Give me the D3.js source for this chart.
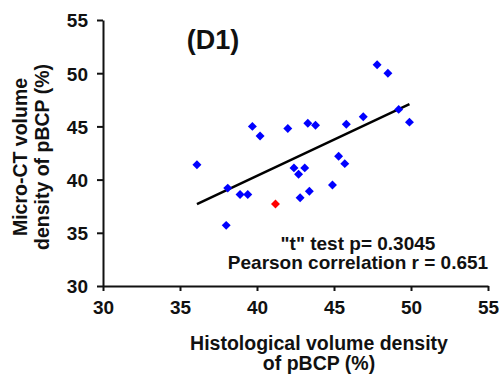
<!DOCTYPE html>
<html>
<head>
<meta charset="utf-8">
<script src="https://cdn.jsdelivr.net/npm/d3@7"></script>
<style>
  body { margin: 0; background: #fff; }
  text { font-family: "Liberation Sans", Arial, sans-serif; font-weight: bold; fill: #111; }
</style>
</head>
<body>
<div id="figure-div"></div>
<script>
// data
var histo = [39.7, 40.2, 42.0, 43.3, 43.8, 45.8, 36.1, 45.3, 45.7, 42.4, 43.1, 42.7,
             38.1, 38.9, 39.4, 42.8, 43.4, 44.9, 47.8, 48.5, 46.9, 49.2, 49.9, 38.0];
var microct = [45.0, 44.1, 44.8, 45.3, 45.1, 45.2, 41.4, 42.2, 41.5, 41.1, 41.1, 40.5,
               39.2, 38.6, 38.6, 38.3, 38.9, 39.5, 50.8, 50.0, 45.9, 46.6, 45.4, 35.7];
// the one red point
var outlierX = [41.2];
var outlierY = [37.7];
// trend line end points
var trendX = [36.1, 49.9];
var trendY = [37.7, 47.1];
var tickValues = [30, 35, 40, 45, 50, 55];
var title = "(D1)";
var statLines = ['"t" test p= 0.3045', "Pearson correlation r = 0.651"];
var xLabel = ["Histological volume density", "of pBCP (%)"];
var yLabel = ["Micro-CT volume", "density of pBCP (%)"];

var w = 501, h = 380;
var plotLeft = 103, plotRight = 488, plotTop = 20, plotBottom = 286;

var svg = d3.select("#figure-div").append("svg")
	.attr("width", w)
	.attr("height", h);

var xScale = d3.scaleLinear().domain([30, 55]).range([plotLeft, plotRight]);
var yScale = d3.scaleLinear().domain([30, 55]).range([plotBottom, plotTop]);

// axes
var xAxis = svg.append("g")
	.attr("transform", "translate(0," + plotBottom + ")")
	.call(d3.axisBottom(xScale).tickValues(tickValues).tickSize(5).tickSizeOuter(0).tickPadding(10));
var yAxis = svg.append("g")
	.attr("transform", "translate(" + plotLeft + ",0)")
	.call(d3.axisLeft(yScale).tickValues(tickValues).tickSize(6).tickSizeOuter(0).tickPadding(9));

svg.selectAll(".domain").attr("stroke", "#111").attr("stroke-width", 2);
svg.selectAll(".tick line").attr("stroke", "#111").attr("stroke-width", 2);
svg.selectAll(".tick text")
	.style("font-family", "'Liberation Sans', Arial, sans-serif")
	.style("font-weight", "bold")
	.style("font-size", "19px")
	.attr("fill", "#111");
xAxis.selectAll(".tick text").attr("dy", "0.71em");
yAxis.selectAll(".tick text").attr("dy", "0.36em");

// trend line
var line = d3.line()
	.x(function(d) { return xScale(d[0]); })
	.y(function(d) { return yScale(d[1]); });
svg.append("path")
	.datum(trendX.map(function(x, i) { return [x, trendY[i]]; }))
	.attr("d", line)
	.attr("fill", "none")
	.attr("stroke", "#000")
	.attr("stroke-width", 2.5);

// diamonds
var diamond = d3.symbol().type(d3.symbolSquare).size(40);
svg.selectAll("path.blue")
	.data(histo)
	.enter()
	.append("path")
	.attr("class", "blue")
	.attr("d", diamond)
	.attr("transform", function(d, i) {
		return "translate(" + xScale(d) + "," + yScale(microct[i]) + ") rotate(45)";
	})
	.attr("fill", "#0000ff");

svg.selectAll("path.red")
	.data(outlierX)
	.enter()
	.append("path")
	.attr("class", "red")
	.attr("d", diamond)
	.attr("transform", function(d, i) {
		return "translate(" + xScale(d) + "," + yScale(outlierY[i]) + ") rotate(45)";
	})
	.attr("fill", "#ff0000");

// title
svg.append("text")
	.attr("x", 213)
	.attr("y", 49)
	.attr("text-anchor", "middle")
	.style("font-size", "27px")
	.text(title);

// stats
svg.selectAll("text.stat")
	.data(statLines)
	.enter()
	.append("text")
	.attr("class", "stat")
	.attr("x", 358)
	.attr("y", function(d, i) { return 250 + i * 19; })
	.attr("text-anchor", "middle")
	.style("font-size", "19px")
	.text(function(d) { return d; });

// x label
svg.selectAll("text.xlab")
	.data(xLabel)
	.enter()
	.append("text")
	.attr("class", "xlab")
	.attr("x", 319)
	.attr("y", function(d, i) { return 350 + i * 20; })
	.attr("text-anchor", "middle")
	.style("font-size", "19.5px")
	.text(function(d) { return d; });

// y label
svg.selectAll("text.ylab")
	.data(yLabel)
	.enter()
	.append("text")
	.attr("class", "ylab")
	.attr("transform", function(d, i) { return "translate(" + (27 + i * 22) + ",157) rotate(-90)"; })
	.attr("text-anchor", "middle")
	.style("font-size", "19.5px")
	.text(function(d) { return d; });
</script>
</body>
</html>
